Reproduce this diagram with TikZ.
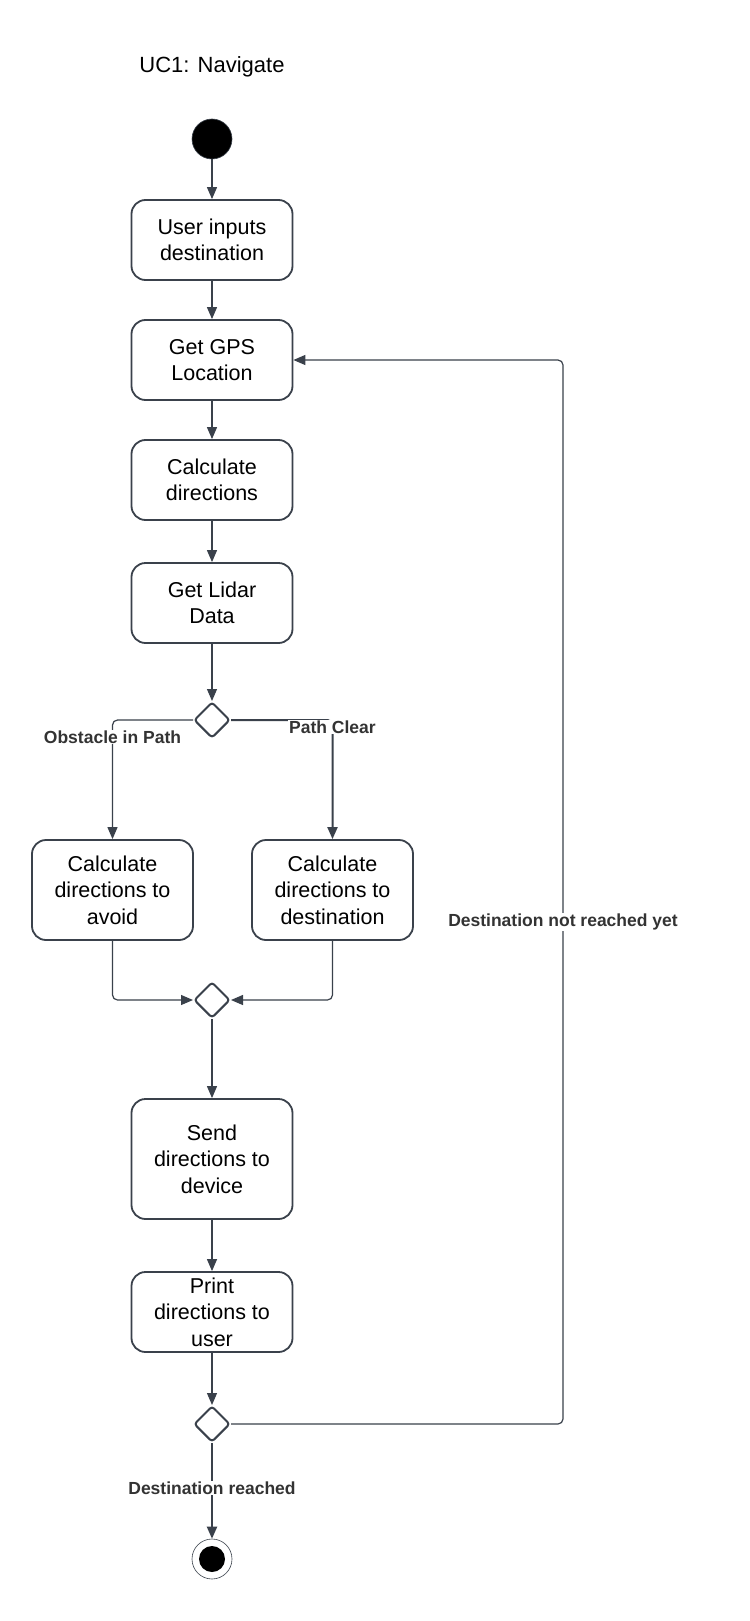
\documentclass[tikz,border=0pt]{standalone}
\usepackage{fontspec}
\setmainfont{Liberation Sans}
\usetikzlibrary{arrows.meta,shapes.geometric}
\definecolor{ln}{HTML}{3A414B}
\definecolor{lbl}{HTML}{333333}
\tikzset{
  actbox/.style={draw=ln,line width=1.8pt,rounded corners=14pt,minimum width=161pt,inner sep=0pt,align=center,font=\fontsize{21.5}{26.5}\selectfont,text=black},
  decis/.style={draw=ln,line width=2pt,diamond,minimum width=36pt,minimum height=36pt,inner sep=0pt,rounded corners=3pt},
  conn/.style={draw=ln,line width=1.2pt,rounded corners=5pt,-{Triangle[length=12pt,width=10pt]}},
  thick conn/.style={conn,line width=2pt},
  guard/.style={fill=white,inner sep=1pt,font=\fontsize{17.5}{20}\selectfont\bfseries,text=lbl},
}
\begin{document}
\begin{tikzpicture}[x=1pt,y=-1pt]
\useasboundingbox[fill=white] (0,0) rectangle (749,1621);
\node[font=\fontsize{22}{26}\selectfont] (title) at (212,67) {UC1: Navigate};
\node[circle,fill=black,draw=ln,line width=0.6pt,minimum size=40pt,inner sep=0pt] (start) at (212,139) {};
\node[actbox,minimum height=80pt] (u1) at (212,240) {User inputs\\destination};
\node[actbox,minimum height=80pt] (gps) at (212,360) {Get GPS\\Location};
\node[actbox,minimum height=80pt] (calc) at (212,480) {Calculate\\directions};
\node[actbox,minimum height=80pt] (lidar) at (212,603) {Get Lidar\\Data};
\node[decis] (d1) at (212,720) {};
\node[actbox,minimum height=100pt] (avoid) at (112.5,890) {Calculate\\directions to\\avoid};
\node[actbox,minimum height=100pt] (dest) at (332.5,890) {Calculate\\directions to\\destination};
\node[decis] (d2) at (212,1000) {};
\node[actbox,minimum height=120pt] (send) at (212,1159) {Send\\directions to\\device};
\node[actbox,minimum height=80pt] (print) at (212,1312) {Print\\directions to\\user};
\node[decis] (d3) at (212,1424) {};
\node[circle,draw=ln,line width=0.6pt,minimum size=40pt,inner sep=0pt] (end) at (212,1559) {};
\fill[black] (end.center) circle (13pt);

\coordinate (cl) at (112.5,720);
\coordinate (cr) at (332.5,720);
\coordinate (ml) at (112.5,1000);
\coordinate (mr) at (332.5,1000);
\coordinate (lr) at (563,1424);
\coordinate (ur) at (563,360);

\draw[conn] (start) -- (u1);
\draw[conn] (u1) -- (gps);
\draw[conn] (gps) -- (calc);
\draw[conn] (calc) -- (lidar);
\draw[conn] (lidar) -- (d1);
\draw[conn] (d1.west) -- (cl) -- (avoid.north);
\draw[thick conn] (d1.east) -- (cr) -- (dest.north);
\draw[conn] (avoid.south) -- (ml) -- (d2.west);
\draw[conn] (dest.south) -- (mr) -- (d2.east);
\draw[conn] (d2) -- (send);
\draw[conn] (send) -- (print);
\draw[conn] (print) -- (d3);
\draw[conn] (d3.east) -- (lr) -- (ur) -- (gps.east);
\draw[thick conn] (d3) -- (end);

\node[guard] (lobst) at (112.5,737) {Obstacle in Path};
\node[guard] (lclear) at (332.5,727) {Path Clear};
\node[guard] (lnot) at (563,922) {Destination not reached yet};
\node[guard] (lreach) at (212,1488) {Destination reached};
\end{tikzpicture}
\end{document}
